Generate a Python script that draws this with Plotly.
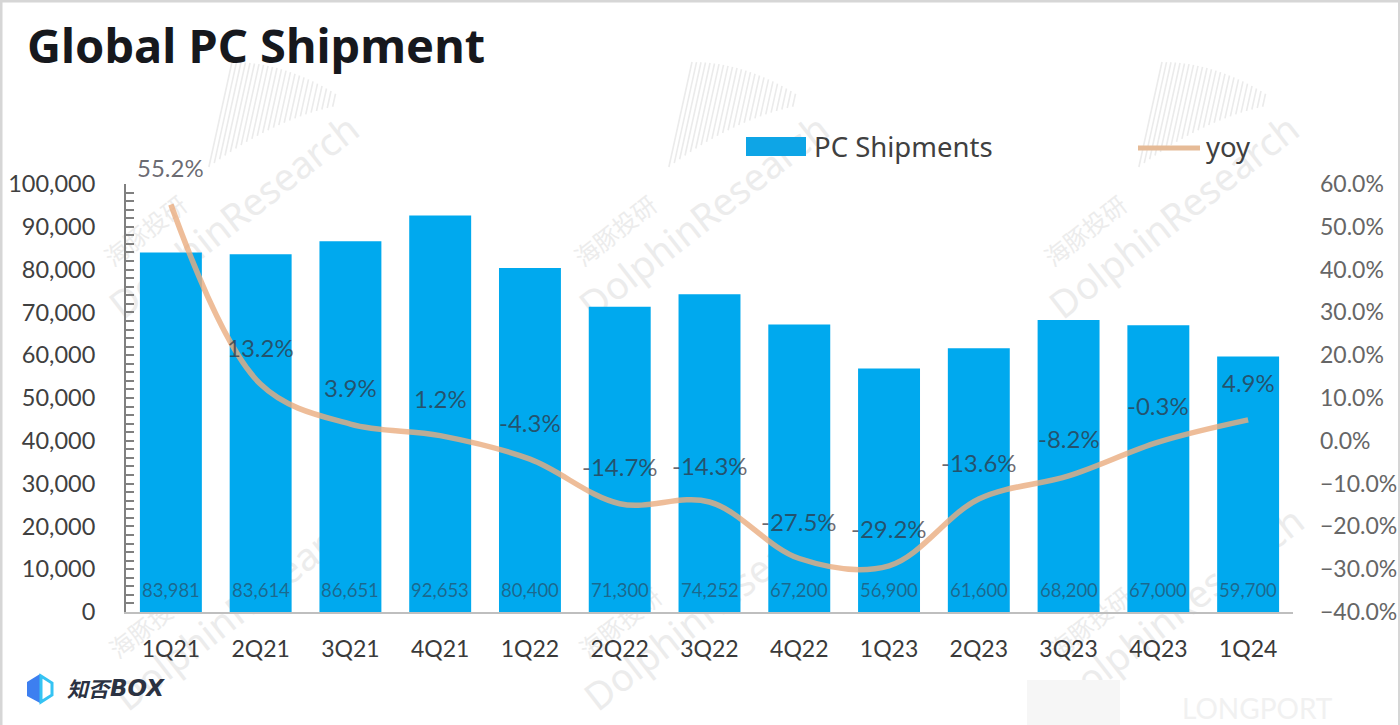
import plotly.graph_objects as go

quarters = ["1Q21", "2Q21", "3Q21", "4Q21", "1Q22", "2Q22", "3Q22", "4Q22", "1Q23", "2Q23", "3Q23", "4Q23", "1Q24"]
shipments = [83981, 83614, 86651, 92653, 80400, 71300, 74252, 67200, 56900, 61600, 68200, 67000, 59700]
yoy = [55.2, 13.2, 3.9, 1.2, -4.3, -14.7, -14.3, -27.5, -29.2, -13.6, -8.2, -0.3, 4.9]
series_names = ["PC Shipments", "yoy"]
title_text = "Global PC Shipment"

W, H = 1400, 725
L, R, T, B = 126, 1293, 184, 612
FONT = "Lato"
BAR = "#00a9ee"
LINE = "rgba(234,172,128,0.8)"
WM = "#ececec"


def px(x):
    return (x - L) / (R - L)


def py(y):
    return (B - y) / (B - T)


fig = go.Figure()
fig.add_bar(x=quarters, y=shipments, name=series_names[0], marker=dict(color=BAR, line_width=0), yaxis="y", showlegend=False)
fig.add_scatter(x=quarters, y=yoy, name=series_names[1], mode="lines", yaxis="y2", showlegend=False,
                line=dict(color=LINE, width=5.5, shape="spline", smoothing=1.0))

anns = []
shapes = []

# data labels
for q, v in zip(quarters, shipments):
    anns.append(dict(x=q, y=0, xref="x", yref="y", yshift=22, text=f"{v:,}", showarrow=False,
                     font=dict(family=FONT, size=18.5, color="rgba(50,50,60,0.55)")))
for q, v in zip(quarters, yoy):
    anns.append(dict(x=q, y=v, xref="x", yref="y2", yshift=37, text=f"{v:.1f}%", showarrow=False,
                     font=dict(family=FONT, size=24, color="rgba(50,50,60,0.72)")))


def text_at(x, y, text, size, color, family=FONT, xanchor="left", bold=False, angle=0):
    anns.append(dict(x=px(x), y=py(y), xref="paper", yref="paper", text=f"<b>{text}</b>" if bold else text,
                     showarrow=False, xanchor=xanchor, yanchor="middle", textangle=angle,
                     font=dict(family=family, size=size, color=color)))


def rect(x0, y0, x1, y1, color, layer="above"):
    shapes.append(dict(type="rect", xref="paper", yref="paper", x0=px(x0), x1=px(x1), y0=py(y0), y1=py(y1),
                       fillcolor=color, line_width=0, layer=layer))


def seg(x0, y0, x1, y1, color, width, layer="above"):
    shapes.append(dict(type="line", xref="paper", yref="paper", x0=px(x0), x1=px(x1), y0=py(y0), y1=py(y1),
                       line=dict(color=color, width=width), layer=layer))


def wm_label(cx, cy, text, size, angle, family="Noto Sans"):
    shapes.append(dict(type="rect", xref="paper", yref="paper", x0=px(cx - 5), x1=px(cx + 5), y0=py(cy - 5), y1=py(cy + 5),
                       line_width=0, fillcolor="rgba(0,0,0,0)", layer="below",
                       label=dict(text=text, textangle=angle, textposition="middle center",
                                  font=dict(family=family, size=size, color=WM))))


# watermarks
for cx, cy in [(235, 218), (705, 218), (1175, 218), (240, 610), (710, 610), (1180, 610)]:
    wm_label(cx, cy, "DolphinResearch", 38, -38)
    wm_label(cx - 88, cy + 15, "海豚投研", 24, -38, "Noto Sans CJK SC")
for ox in (0, -460, 470):
    for i in range(24):
        x0 = 692 + ox + i * 4.5
        y0 = 62 + i * i * 0.06
        ln = 105 - i * 4
        seg(x0, y0, x0 - ln * 0.22, y0 + ln, "#ebebeb", 1.6, layer="below")
rect(1027, 680, 1120, 725, "#f6f6f6", layer="below")
text_at(1180, 708, "LONGPORT", 28, "#f1f1f1")

# frame of the picture
seg(1, 0, 1, 725, "#d6d6d6", 3)
seg(0, 1, 1400, 1, "#d6d6d6", 3)
seg(1399, 0, 1399, 725, "#d6d6d6", 2)

# title
text_at(25, 45, title_text, 47, "#16181d", family="Noto Sans", bold=True)

# legend
rect(746, 137, 806, 156, "#0ea5e6")
text_at(812, 146, series_names[0], 27.5, "#404040", family="Noto Sans")
seg(1138, 148, 1200, 148, "#e6bb97", 5)
text_at(1204, 146, series_names[1], 27.5, "#404040", family="Noto Sans")

# logo
shapes.append(dict(type="path", xref="paper", yref="paper", fillcolor="#3d7ff0", line_width=0,
                   path=f"M {px(40)} {py(674)} L {px(27)} {py(682)} L {px(27)} {py(696)} L {px(40)} {py(703)} L {px(40)} {py(690)} Z"))
shapes.append(dict(type="path", xref="paper", yref="paper", fillcolor="rgba(0,0,0,0)", line=dict(color="#35c3f3", width=3),
                   path=f"M {px(41)} {py(676)} L {px(52)} {py(683)} L {px(52)} {py(695)} L {px(41)} {py(702)} L {px(41)} {py(690)} Z"))
text_at(65, 688, "<i>知否</i>", 21, "#2b3242", family="Noto Sans CJK SC", bold=True)
text_at(108, 688, "<i>BOX</i>", 23, "#2b3242", family="DejaVu Sans", bold=True)

fig.update_layout(
    width=W, height=H, margin=dict(l=L, r=W - R, t=T, b=H - B, autoexpand=False), autosize=False,
    paper_bgcolor="white", plot_bgcolor="rgba(0,0,0,0)", bargap=0.31,
    annotations=anns, shapes=shapes, showlegend=False,
    xaxis=dict(type="category", categoryorder="array", categoryarray=quarters, range=[-0.5, 12.5], automargin=False,
               showline=True, linecolor="#bfbfbf", linewidth=2, ticks="", showgrid=False, zeroline=False,
               tickfont=dict(family=FONT, size=23, color="#3a3a3a"), ticklabelstandoff=15),
    yaxis=dict(range=[0, 100000], tickmode="linear", tick0=0, dtick=10000, tickformat=",d", automargin=False,
               showline=True, linecolor="#808080", linewidth=2, ticks="inside", ticklen=8, tickcolor="#808080", tickwidth=2,
               minor=dict(ticks="inside", dtick=2000, ticklen=8, tickcolor="#808080", tickwidth=2),
               showgrid=False, zeroline=False, tickfont=dict(family=FONT, size=23.5, color="#404040"), ticklabelstandoff=24),
    yaxis2=dict(range=[-40, 60], overlaying="y", side="right", tickmode="linear", tick0=-40, dtick=10, automargin=False,
                tickformat=".1f", ticksuffix="%", showline=False, ticks="", showgrid=False, zeroline=False,
                tickfont=dict(family=FONT, size=23, color="#666666"), ticklabelstandoff=26),
)

fig.write_html("out.html", config={"displayModeBar": False},
               post_script="document.body.style.margin='0';document.body.style.overflow='hidden';")
